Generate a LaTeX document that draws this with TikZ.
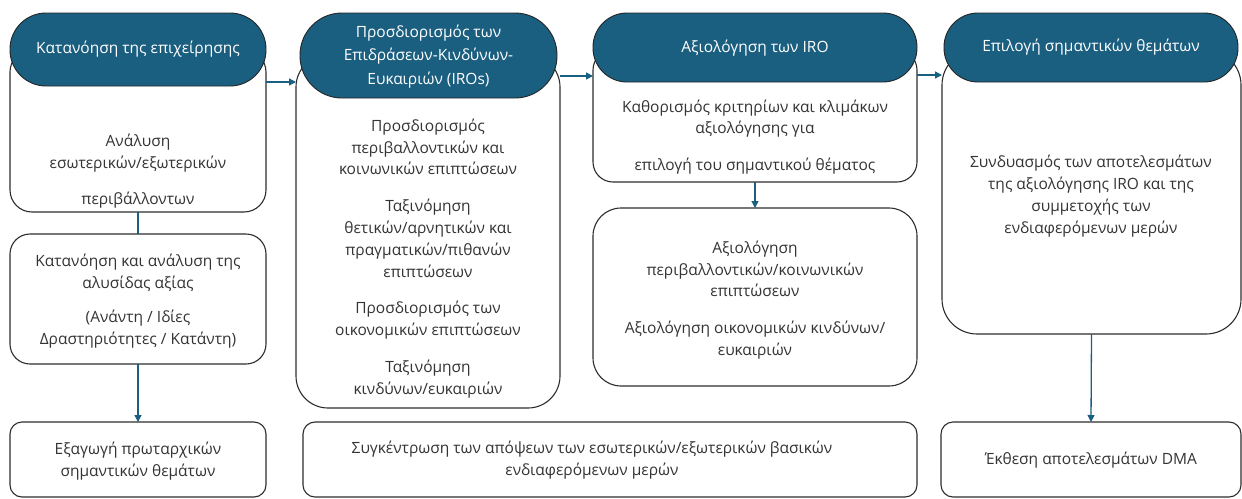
\documentclass[tikz,border=0pt]{standalone}
\usepackage{fontspec}
\setmainfont{Open Sans}
\usetikzlibrary{arrows.meta,calc}
\definecolor{hdr}{RGB}{26,94,128}
\definecolor{txtgray}{RGB}{52,52,52}
\definecolor{edgegray}{RGB}{45,45,45}
\begin{document}
\begin{tikzpicture}[x=1pt,y=-1pt,
  wbox/.style={draw=edgegray,line width=1.1pt,fill=white,rounded corners=#1,inner sep=0pt,outer sep=0pt},
  pill/.style={draw=black!85,line width=0.9pt,fill=hdr,rounded corners=#1,inner sep=0pt,outer sep=0pt},
  txt/.style={align=center,text=txtgray,font=\fontsize{15.5}{21.8}\selectfont,inner sep=0pt},
  htxt/.style={align=center,text=white,font=\fontsize{15.5}{23.5}\selectfont,inner sep=0pt},
  arr/.style={draw=hdr,line width=1.3pt,-{Triangle[length=7pt,width=7pt]}},
  lnk/.style={draw=hdr,line width=1.3pt}]
\useasboundingbox (0,0) rectangle (1242,498);
% column 1
\node[wbox=22,minimum width=256pt,minimum height=162pt] (c1box) at (138,131) {};
\node[pill=36,minimum width=256pt,minimum height=73pt] (c1hdr) at (138,49.5) {};
\node[htxt] (c1hdrt) at (138,49.5) {Κατανόηση της επιχείρησης};
\node[txt] (c1t) at (138,171) {Ανάλυση\\εσωτερικών/εξωτερικών\\[14pt]περιβάλλοντων};
\node[wbox=20,minimum width=256pt,minimum height=130pt] (c1b2) at (138,299) {};
\node[txt] (c1b2t) at (138,301) {Κατανόηση και ανάλυση της\\αλυσίδας αξίας\\[12pt](Ανάντη / Ιδίες\\Δραστηριότητες / Κατάντη)};
\node[wbox=12,minimum width=256pt,minimum height=75pt] (c1b3) at (138,459.5) {};
\node[txt] (c1b3t) at (138,461) {Εξαγωγή πρωταρχικών\\σημαντικών θεμάτων};
% column 2
\node[wbox=32,minimum width=264pt,minimum height=353pt] (c2box) at (428,231.5) {};
\node[pill=42,minimum width=257pt,minimum height=85pt] (c2hdr) at (428.5,55.5) {};
\node[htxt] (c2hdrt) at (428.5,56.5) {Προσδιορισμός των\\Επιδράσεων-Κινδύνων-\\Ευκαιριών (IROs)};
\node[txt] (c2t) at (428,258.5) {Προσδιορισμός\\περιβαλλοντικών και\\κοινωνικών επιπτώσεων\\[15pt]Ταξινόμηση\\θετικών/αρνητικών και\\πραγματικών/πιθανών\\επιπτώσεων\\[15pt]Προσδιορισμός των\\οικονομικών επιπτώσεων\\[15pt]Ταξινόμηση\\κινδύνων/ευκαιριών};
\node[wbox=12,minimum width=614pt,minimum height=75pt] (bm) at (610,459.5) {};
\node[txt] (bmt) at (592,460) {Συγκέντρωση των απόψεων των εσωτερικών/εξωτερικών βασικών\\ενδιαφερόμενων μερών};
% column 3
\node[wbox=20,minimum width=324pt,minimum height=132pt] (c3box) at (755,116) {};
\node[pill=34,minimum width=324pt,minimum height=69pt] (c3hdr) at (755,47.5) {};
\node[htxt] (c3hdrt) at (755,48) {Αξιολόγηση των IRO};
\node[txt] (c3t) at (755,137) {Καθορισμός κριτηρίων και κλιμάκων\\αξιολόγησης για\\[15pt]επιλογή του σημαντικού θέματος};
\node[wbox=28,minimum width=324pt,minimum height=178pt] (c3low) at (755,297) {};
\node[txt] (c3lowt) at (755,300) {Αξιολόγηση\\περιβαλλοντικών/κοινωνικών\\επιπτώσεων\\[15pt]Αξιολόγηση οικονομικών κινδύνων/\\ευκαιριών};
% column 4
\node[wbox=35,minimum width=299pt,minimum height=284pt] (c4box) at (1091.5,192) {};
\node[pill=34,minimum width=294pt,minimum height=69pt] (c4hdr) at (1091,47.5) {};
\node[htxt] (c4hdrt) at (1091,47.5) {Επιλογή σημαντικών θεμάτων};
\node[txt] (c4t) at (1091,196) {Συνδυασμός των αποτελεσμάτων\\της αξιολόγησης IRO και της\\συμμετοχής των\\ενδιαφερόμενων μερών};
\node[wbox=12,minimum width=300pt,minimum height=75pt] (dma) at (1091,459.5) {};
\node[txt] (dmat) at (1091,460) {Έκθεση αποτελεσμάτων DMA};
% connectors
\coordinate (y1) at (0,82);
\coordinate (y2) at (0,76);
\coordinate (y3) at (0,75);
\draw[lnk] (c1box.south) -- (c1b2.north);
\draw[arr] (c1b2.south) -- (c1b3.north);
\draw[arr] (c1box.east |- y1) -- (c2box.west |- y1);
\draw[arr] (c2box.east |- y2) -- (c3box.west |- y2);
\draw[arr] (c3box.east |- y3) -- (c4box.west |- y3);
\draw[arr] (c3box.south) -- (c3low.north);
\draw[arr] (c4box.south) -- (dma.north);
\end{tikzpicture}
\end{document}
